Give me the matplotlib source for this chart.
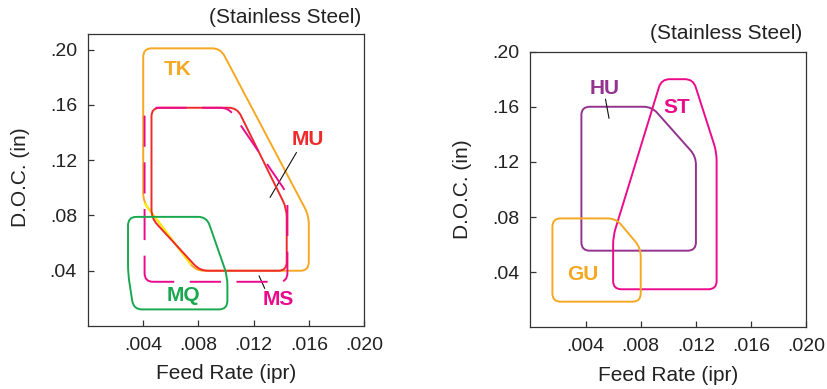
import matplotlib
matplotlib.use('Agg')
import matplotlib.pyplot as plt
import numpy as np
from matplotlib.path import Path
from matplotlib.patches import PathPatch

plt.rcParams['font.family'] = ['Liberation Sans', 'DejaVu Sans']

# corner points (feed rate ipr, D.O.C. in) of each grade window - left chart
tk_feed = [0.0040, 0.0040, 0.0096, 0.0160, 0.0160, 0.0078]
tk_doc = [0.090, 0.201, 0.201, 0.080, 0.040, 0.040]
mu_feed = [0.0046, 0.0046, 0.0108, 0.0144, 0.0144, 0.0081]
mu_doc = [0.078, 0.158, 0.158, 0.085, 0.040, 0.040]
ms_feed = [0.0041, 0.0041, 0.0102, 0.01445, 0.01445]
ms_doc = [0.032, 0.158, 0.158, 0.0956, 0.032]
mq_feed = [0.0029, 0.0029, 0.0086, 0.0101, 0.0101, 0.0033]
mq_doc = [0.038, 0.079, 0.079, 0.036, 0.012, 0.012]

# right chart
hu_feed = [0.0037, 0.0037, 0.0088, 0.0120, 0.0120]
hu_doc = [0.0556, 0.160, 0.160, 0.124, 0.0556]
st_feed = [0.0060, 0.0060, 0.0095, 0.0118, 0.0135, 0.0135]
st_doc = [0.0276, 0.066, 0.180, 0.180, 0.127, 0.0276]
gu_feed = [0.0016, 0.0016, 0.0062, 0.0080, 0.0080]
gu_doc = [0.0186, 0.079, 0.079, 0.0575, 0.0186]

x_ticks = [0.004, 0.008, 0.012, 0.016, 0.020]
x_labels = ['.004', '.008', '.012', '.016', '.020']
y_ticks = [0.04, 0.08, 0.12, 0.16, 0.20]
y_labels = ['.04', '.08', '.12', '.16', '.20']

ORANGE = '#f7a823'
RED = '#ee2a2a'
MAGENTA = '#ec0a8c'
GREEN = '#1aa84e'
PURPLE = '#93328f'
YELLOW = '#fff200'
LW = 1.4


def rounded_path(ax, xs, ys, r=0.03):
    # round the corners in axes-fraction space, then go back to data
    x0, x1 = ax.get_xlim()
    y0, y1 = ax.get_ylim()
    pts = np.column_stack([(np.array(xs) - x0) / (x1 - x0),
                           (np.array(ys) - y0) / (y1 - y0)])
    n = len(pts)
    verts, codes = [], []
    for i in range(n):
        p = pts[i]
        da = pts[i - 1] - p
        db = pts[(i + 1) % n] - p
        la, lb = np.hypot(*da), np.hypot(*db)
        pin = p + da / la * min(r, la / 2)
        pout = p + db / lb * min(r, lb / 2)
        verts += [pin, p, pout]
        codes += [Path.MOVETO if i == 0 else Path.LINETO, Path.CURVE3, Path.CURVE3]
    verts.append(verts[0])
    codes.append(Path.LINETO)
    verts = np.array(verts)
    verts[:, 0] = verts[:, 0] * (x1 - x0) + x0
    verts[:, 1] = verts[:, 1] * (y1 - y0) + y0
    return Path(verts, codes)


def window(ax, xs, ys, color, **kw):
    ax.add_patch(PathPatch(rounded_path(ax, xs, ys), fill=False,
                           edgecolor=color, lw=LW, capstyle='butt', **kw))


def style_axes(ax, ylim):
    ax.set_xlim(0, 0.020)
    ax.set_ylim(0, ylim)
    ax.set_xticks(x_ticks)
    ax.set_xticklabels(x_labels)
    ax.set_yticks(y_ticks)
    ax.set_yticklabels(y_labels)
    ax.tick_params(direction='in', length=4, width=0.9, color='#333333',
                   labelsize=14, pad=8, labelcolor='#222222')
    for s in ax.spines.values():
        s.set_linewidth(0.9)
        s.set_color('#333333')
    ax.set_xlabel('Feed Rate (ipr)', fontsize=15, color='#222222')
    ax.set_ylabel('D.O.C. (in)', fontsize=15, color='#222222')


fig = plt.figure(figsize=(8.28, 3.89), dpi=100)
ax1 = fig.add_axes([0.1063, 0.162, 0.3333, 0.7506])
ax2 = fig.add_axes([0.6405, 0.1586, 0.3333, 0.7087])

# ---- left chart
style_axes(ax1, 0.2114)
ax1.xaxis.set_label_coords(0.5, -0.13)
ax1.yaxis.set_label_coords(-0.21, 0.51)
window(ax1, tk_feed, tk_doc, ORANGE, zorder=2)
seg_x = np.array([tk_feed[5], tk_feed[0]])
seg_y = np.array([tk_doc[5], tk_doc[0]])
t = np.array([0.1, 0.97])
ax1.plot(seg_x[0] + t * (seg_x[1] - seg_x[0]), seg_y[0] + t * (seg_y[1] - seg_y[0]),
         color=YELLOW, lw=LW, zorder=2.5)
window(ax1, mu_feed, mu_doc, RED, zorder=3)
window(ax1, ms_feed, ms_doc, MAGENTA, linestyle=(0, (16, 8)), zorder=4)
window(ax1, mq_feed, mq_doc, GREEN, zorder=5)

lab = dict(fontsize=15, fontweight='bold', ha='center', va='center')
ax1.text(0.0065, 0.186, 'TK', color=ORANGE, **lab)
ax1.text(0.0159, 0.135, 'MU', color=RED, **lab)
ax1.plot([0.0151, 0.0132], [0.1255, 0.0932], color='#111111', lw=0.8)
ax1.text(0.0138, 0.019, 'MS', color=MAGENTA, **lab)
ax1.plot([0.0128, 0.0124], [0.0273, 0.0362], color='#111111', lw=0.8)
ax1.text(0.0069, 0.022, 'MQ', color=GREEN, **lab)
ax1.text(0.989, 1.058, '(Stainless Steel)', transform=ax1.transAxes, ha='right', va='center',
         fontsize=15, color='#222222')

# ---- right chart
style_axes(ax2, 0.20)
ax2.xaxis.set_label_coords(0.5, -0.14)
ax2.yaxis.set_label_coords(-0.212, 0.5)
window(ax2, hu_feed, hu_doc, PURPLE, zorder=2)
window(ax2, st_feed, st_doc, MAGENTA, zorder=3)
window(ax2, gu_feed, gu_doc, ORANGE, zorder=4)

ax2.text(0.0054, 0.1735, 'HU', color=PURPLE, **lab)
ax2.plot([0.00545, 0.0057], [0.1654, 0.1517], color='#111111', lw=0.8)
ax2.text(0.0106, 0.1596, 'ST', color=MAGENTA, **lab)
ax2.text(0.0038, 0.038, 'GU', color=ORANGE, **lab)
ax2.text(0.987, 1.067, '(Stainless Steel)', transform=ax2.transAxes, ha='right', va='center',
         fontsize=15, color='#222222')

fig.savefig('out.png', dpi=100)
